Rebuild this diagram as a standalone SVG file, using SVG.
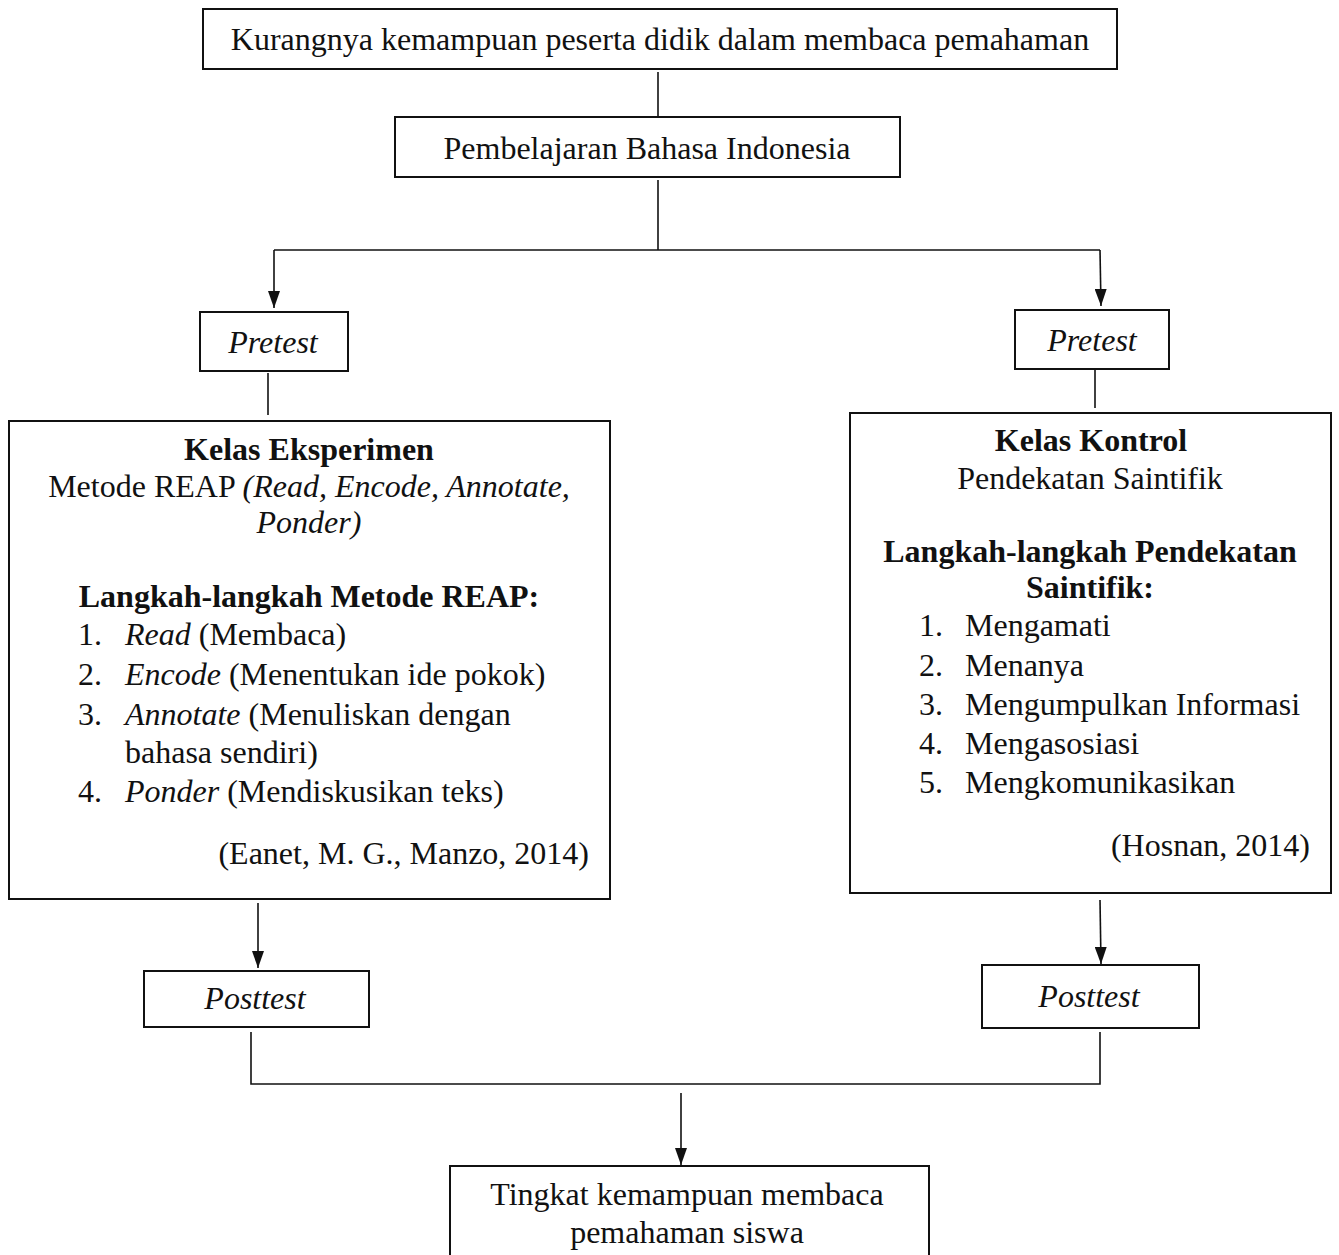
<svg xmlns="http://www.w3.org/2000/svg" width="1339" height="1255" viewBox="0 0 1339 1255">
<style>
.box{fill:#fff;stroke:#111;stroke-width:2}
.ln{fill:none;stroke:#111;stroke-width:1.6}
text{font-family:"Liberation Serif","Times New Roman",serif;font-size:32px;fill:#111}
.c{text-anchor:middle}
.e{text-anchor:end}
.b{font-weight:bold}
.i{font-style:italic}
</style>
<defs>
<marker id="ah" viewBox="0 0 17 12" markerWidth="17" markerHeight="12" refX="17" refY="6" orient="auto" markerUnits="userSpaceOnUse">
<path d="M0,0 L17,6 L0,12 z" fill="#111"/>
</marker>
</defs>
<rect width="1339" height="1255" fill="#fff"/>
<g id="connectors">
<line class="ln" x1="658" y1="72" x2="658" y2="117"/>
<line class="ln" x1="658" y1="180" x2="658" y2="250"/>
<polyline class="ln" points="274,250 1100,250"/>
<line class="ln" x1="274" y1="250" x2="274" y2="308" marker-end="url(#ah)"/>
<line class="ln" x1="1100" y1="250" x2="1101" y2="306" marker-end="url(#ah)"/>
<line class="ln" x1="268" y1="373" x2="268" y2="415"/>
<line class="ln" x1="1095" y1="367" x2="1095" y2="408"/>
<line class="ln" x1="258" y1="903" x2="258" y2="968" marker-end="url(#ah)"/>
<line class="ln" x1="1100" y1="900" x2="1101" y2="964" marker-end="url(#ah)"/>
<polyline class="ln" points="251,1032 251,1084 1100,1084 1100,1032"/>
<line class="ln" x1="681" y1="1093" x2="681" y2="1165" marker-end="url(#ah)"/>
</g>
<g id="n1">
<rect class="box" x="203" y="9" width="914" height="60"/>
<text class="c" x="660" y="50">Kurangnya kemampuan peserta didik dalam membaca pemahaman</text>
</g>
<g id="n2">
<rect class="box" x="395" y="117" width="505" height="60"/>
<text class="c" x="647" y="159">Pembelajaran Bahasa Indonesia</text>
</g>
<g id="pretest-left">
<rect class="box" x="200" y="312" width="148" height="59"/>
<text class="c i" x="273" y="353">Pretest</text>
</g>
<g id="pretest-right">
<rect class="box" x="1015" y="310" width="154" height="59"/>
<text class="c i" x="1092" y="351">Pretest</text>
</g>
<g id="kelas-eksperimen">
<rect class="box" x="9" y="421" width="601" height="478"/>
<text class="c b" x="309" y="460">Kelas Eksperimen</text>
<text class="c" x="309" y="497">Metode REAP <tspan class="i">(Read, Encode, Annotate,</tspan></text>
<text class="c i" x="309" y="533">Ponder)</text>
<text class="c b" x="309" y="607">Langkah-langkah Metode REAP:</text>
<text x="78" y="645">1.</text><text x="125" y="645"><tspan class="i">Read</tspan> (Membaca)</text>
<text x="78" y="685">2.</text><text x="125" y="685"><tspan class="i">Encode</tspan> (Menentukan ide pokok)</text>
<text x="78" y="725">3.</text><text x="125" y="725"><tspan class="i">Annotate</tspan> (Menuliskan dengan</text>
<text x="125" y="763">bahasa sendiri)</text>
<text x="78" y="802">4.</text><text x="125" y="802"><tspan class="i">Ponder</tspan> (Mendiskusikan teks)</text>
<text class="e" x="589" y="864">(Eanet, M. G., Manzo, 2014)</text>
</g>
<g id="kelas-kontrol">
<rect class="box" x="850" y="413" width="481" height="480"/>
<text class="c b" x="1091" y="451">Kelas Kontrol</text>
<text class="c" x="1090" y="489">Pendekatan Saintifik</text>
<text class="c b" x="1090" y="562">Langkah-langkah Pendekatan</text>
<text class="c b" x="1090" y="598">Saintifik:</text>
<text x="919" y="636">1.</text><text x="965" y="636">Mengamati</text>
<text x="919" y="676">2.</text><text x="965" y="676">Menanya</text>
<text x="919" y="715">3.</text><text x="965" y="715">Mengumpulkan Informasi</text>
<text x="919" y="754">4.</text><text x="965" y="754">Mengasosiasi</text>
<text x="919" y="793">5.</text><text x="965" y="793">Mengkomunikasikan</text>
<text class="e" x="1310" y="856">(Hosnan, 2014)</text>
</g>
<g id="posttest-left">
<rect class="box" x="144" y="971" width="225" height="56"/>
<text class="c i" x="255" y="1009">Posttest</text>
</g>
<g id="posttest-right">
<rect class="box" x="982" y="965" width="217" height="63"/>
<text class="c i" x="1089" y="1007">Posttest</text>
</g>
<g id="hasil">
<rect class="box" x="450" y="1166" width="479" height="100"/>
<text class="c" x="687" y="1205">Tingkat kemampuan membaca</text>
<text class="c" x="687" y="1243">pemahaman siswa</text>
</g>
</svg>
